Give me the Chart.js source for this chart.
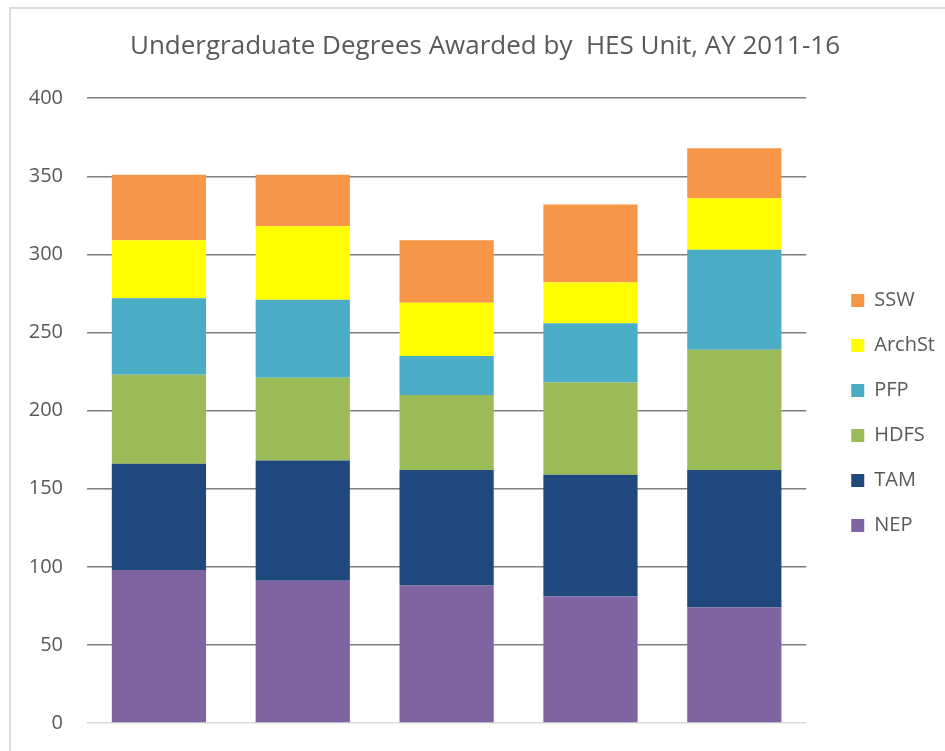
<!DOCTYPE html>
<html lang="en">
  <head>
    <meta charset="UTF-8" />
    <title>Undergraduate Degrees Awarded by HES Unit, AY 2011-16</title>
    <script src="https://cdn.jsdelivr.net/npm/chart.js"></script>
    <style>
      html, body { margin: 0; padding: 0; background: #fff; overflow: hidden; }
      #frame {
        position: absolute; left: 9px; top: 7px;
        width: 1000px; height: 1000px;
        border: 2px solid #dcdcdc;
      }
      #chart { position: absolute; left: 0; top: 0; }
    </style>
  </head>
  <body>
    <div id="frame"></div>
    <canvas id="chart" width="945" height="751"></canvas>
    <script>
      // academic years (not shown on the axis in the original)
      const years = ["2011-12", "2012-13", "2013-14", "2014-15", "2015-16"];

      // degrees per unit
      const nep = [98, 91, 88, 81, 74];
      const tam = [68, 77, 74, 78, 88];
      const hdfs = [57, 53, 48, 59, 77];
      const pfp = [49, 50, 25, 38, 64];
      const archSt = [37, 47, 34, 26, 33];
      const ssw = [42, 33, 40, 50, 32];

      const yTicks = [0, 50, 100, 150, 200, 250, 300, 350, 400];

      const textColor = "#595959";
      const font = "'Open Sans', 'Liberation Sans', sans-serif";

      new Chart(document.getElementById("chart"), {
        type: "bar",
        data: {
          labels: years,
          datasets: [
            { label: "NEP", data: nep, backgroundColor: "#8064A2" },
            { label: "TAM", data: tam, backgroundColor: "#1F497D" },
            { label: "HDFS", data: hdfs, backgroundColor: "#9BBB59" },
            { label: "PFP", data: pfp, backgroundColor: "#4BACC6" },
            { label: "ArchSt", data: archSt, backgroundColor: "#FFFF00" },
            { label: "SSW", data: ssw, backgroundColor: "#F79646" },
          ],
        },
        options: {
          responsive: false,
          animation: false,
          barPercentage: 0.655,
          categoryPercentage: 1,
          layout: { padding: { left: 25, right: 0, top: 0, bottom: 28 } },
          plugins: {
            title: {
              display: true,
              text: "Undergraduate Degrees Awarded by  HES Unit, AY 2011-16",
              color: textColor,
              font: { family: font, size: 26, weight: "normal" },
              padding: { top: 31, bottom: 36 },
            },
            legend: {
              position: "right",
              reverse: true,
              title: {
                display: true,
                text: " ",
                font: { size: 10 },
                padding: { top: 91, bottom: 0 },
              },
              labels: {
                color: textColor,
                font: { family: font, size: 20 },
                boxWidth: 13,
                boxHeight: 13,
                padding: 25,
              },
            },
            tooltip: { enabled: false },
          },
          scales: {
            x: {
              stacked: true,
              display: false,
            },
            y: {
              stacked: true,
              min: 0,
              max: 400,
              afterBuildTicks: (axis) => {
                axis.ticks = yTicks.map((v) => ({ value: v }));
              },
              afterFit: (axis) => {
                axis.width = 62;
                axis.paddingTop = 0;
                axis.paddingBottom = 0;
              },
              ticks: {
                color: textColor,
                font: { family: font, size: 20 },
                padding: 24,
              },
              grid: {
                drawTicks: false,
                lineWidth: 1.5,
                color: (ctx) => (ctx.tick && ctx.tick.value === 0 ? "#d9d9d9" : "#7f7f7f"),
              },
              border: { display: false },
            },
            gap: {
              position: "right",
              display: true,
              ticks: { display: false },
              grid: { display: false },
              border: { display: false },
              afterFit: (axis) => {
                axis.width = 20;
              },
            },
          },
        },
      });
    </script>
  </body>
</html>
